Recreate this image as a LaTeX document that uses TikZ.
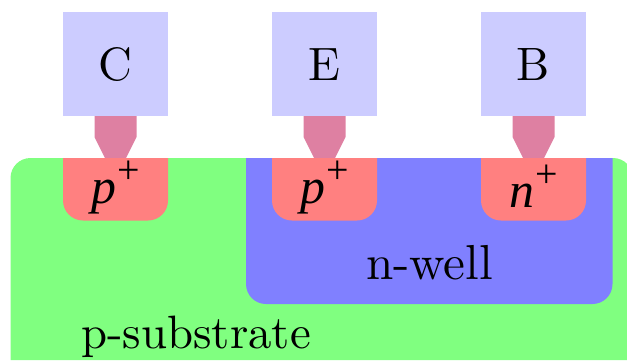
\documentclass[tikz,border=0pt]{standalone}
\usepackage{fontspec}
\newfontfamily\dopefont{Liberation Serif}
\usepackage{tikz}
\definecolor{padblue}{RGB}{204,204,255}
\definecolor{plugpink}{RGB}{222,128,162}
\definecolor{subgreen}{RGB}{128,255,128}
\definecolor{wellblue}{RGB}{128,128,255}
\definecolor{dopedred}{RGB}{255,128,128}
\tikzset{
  padbox/.style={fill=padblue, minimum width=104.5bp, minimum height=104.5bp, inner sep=0pt},
  biglab/.style={scale=4.7, inner sep=0pt, anchor=base},
  dopelab/.style={scale=5, inner sep=0pt, anchor=base, font=\dopefont}
}
\begin{document}
\begin{tikzpicture}[x=1bp, y=-1bp]
\useasboundingbox (0,0) rectangle (627,360);
% ---- substrate and well ----
\fill[subgreen] (10.5,360) -- (10.5,178) arc[start angle=180, end angle=90, radius=20bp]
  -- (613,158) arc[start angle=90, end angle=0, radius=20bp] -- (633,360) -- cycle;
\fill[wellblue] (246,158) -- (612.5,158) -- (612.5,284) arc[start angle=0, end angle=-90, radius=20bp]
  -- (266,304) arc[start angle=-90, end angle=-180, radius=20bp] -- cycle;
\node[biglab] (sublab) at (196,348) {p-substrate};
\node[biglab, scale=1.05] (welllab) at (429.5,279) {n-well};
% ---- the three contacts ----
\foreach \x/\term/\dope/\doy in {115.5/C/p/203.5, 324.5/E/p/203.5, 533.5/B/n/207} {
  \fill[plugpink] (\x-21,116) -- (\x+21,116) -- (\x+21,137) -- (\x+10.5,158) -- (\x-10.5,158) -- (\x-21,137) -- cycle;
  \node[padbox] (pad\term) at (\x,64) {};
  \node[biglab] (term\term) at (\x,80) {\term};
  \fill[dopedred] (\x-52.5,158) -- (\x+52.5,158) -- (\x+52.5,200.5) arc[start angle=0, end angle=-90, radius=20bp]
    -- (\x-32.5,220.5) arc[start angle=-90, end angle=-180, radius=20bp] -- cycle;
  \node[dopelab] (dope\term) at (\x,\doy) {\itshape\dope\/\kern0.3pt\raisebox{4pt}{\upshape\fontsize{8}{8}\selectfont +}};
}
\end{tikzpicture}
\end{document}
